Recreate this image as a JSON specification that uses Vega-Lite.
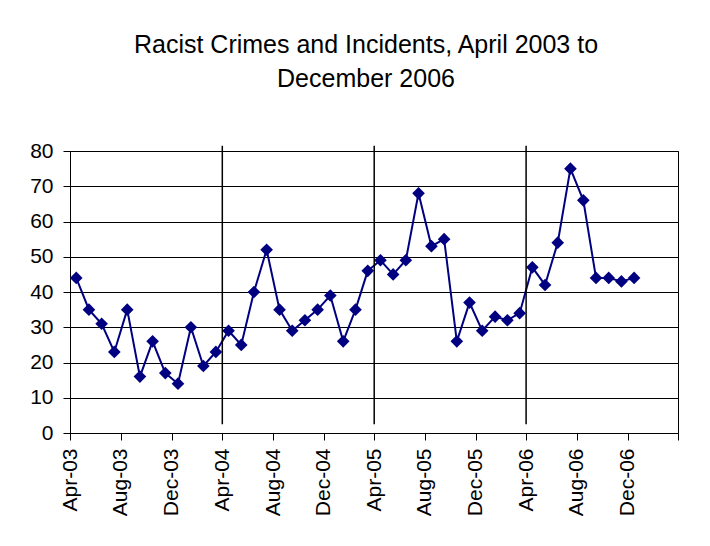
{
  "$schema": "https://vega.github.io/schema/vega-lite/v6.json",
  "autosize": {"type": "none"},
  "width": 608,
  "height": 282,
  "padding": {"left": 70, "top": 151, "right": 32, "bottom": 113},
  "background": "white",
  "title": {
    "text": ["Racist Crimes and Incidents, April 2003 to", "December 2006"],
    "font": "Liberation Sans",
    "fontSize": 25,
    "fontWeight": "normal",
    "color": "black",
    "lineHeight": 34,
    "anchor": "middle",
    "dx": -8,
    "offset": 48
  },
  "config": {
    "view": {"stroke": "black", "strokeWidth": 1},
    "axis": {
      "labelFont": "Liberation Sans",
      "labelFontSize": 21,
      "labelColor": "black",
      "domainColor": "black",
      "tickColor": "black",
      "tickSize": 7,
      "domainWidth": 1,
      "tickWidth": 1,
      "labelOverlap": false
    },
    "axisY": {
      "grid": true,
      "gridColor": "black",
      "gridOpacity": 1,
      "gridWidth": 1,
      "labelPadding": 10,
      "labelFlush": false
    }
  },
  "datasets": {
    "crimes": [
      {"month": "2003-04-01", "count": 44},
      {"month": "2003-05-01", "count": 35},
      {"month": "2003-06-01", "count": 31},
      {"month": "2003-07-01", "count": 23},
      {"month": "2003-08-01", "count": 35},
      {"month": "2003-09-01", "count": 16},
      {"month": "2003-10-01", "count": 26},
      {"month": "2003-11-01", "count": 17},
      {"month": "2003-12-01", "count": 14},
      {"month": "2004-01-01", "count": 30},
      {"month": "2004-02-01", "count": 19},
      {"month": "2004-03-01", "count": 23},
      {"month": "2004-04-01", "count": 29},
      {"month": "2004-05-01", "count": 25},
      {"month": "2004-06-01", "count": 40},
      {"month": "2004-07-01", "count": 52},
      {"month": "2004-08-01", "count": 35},
      {"month": "2004-09-01", "count": 29},
      {"month": "2004-10-01", "count": 32},
      {"month": "2004-11-01", "count": 35},
      {"month": "2004-12-01", "count": 39},
      {"month": "2005-01-01", "count": 26},
      {"month": "2005-02-01", "count": 35},
      {"month": "2005-03-01", "count": 46},
      {"month": "2005-04-01", "count": 49},
      {"month": "2005-05-01", "count": 45},
      {"month": "2005-06-01", "count": 49},
      {"month": "2005-07-01", "count": 68},
      {"month": "2005-08-01", "count": 53},
      {"month": "2005-09-01", "count": 55},
      {"month": "2005-10-01", "count": 26},
      {"month": "2005-11-01", "count": 37},
      {"month": "2005-12-01", "count": 29},
      {"month": "2006-01-01", "count": 33},
      {"month": "2006-02-01", "count": 32},
      {"month": "2006-03-01", "count": 34},
      {"month": "2006-04-01", "count": 47},
      {"month": "2006-05-01", "count": 42},
      {"month": "2006-06-01", "count": 54},
      {"month": "2006-07-01", "count": 75},
      {"month": "2006-08-01", "count": 66},
      {"month": "2006-09-01", "count": 44},
      {"month": "2006-10-01", "count": 44},
      {"month": "2006-11-01", "count": 43},
      {"month": "2006-12-01", "count": 44}
    ],
    "years": [
      {"month": "2004-04-01"},
      {"month": "2005-04-01"},
      {"month": "2006-04-01"}
    ]
  },
  "layer": [
    {
      "data": {"name": "crimes"},
      "encoding": {
        "x": {
          "field": "month",
          "type": "temporal",
          "timeUnit": "utcyearmonth",
          "bandPosition": 0.5,
          "title": null,
          "scale": {
            "domain": [
              {"year": 2003, "month": 4, "date": 1, "utc": true},
              {"year": 2007, "month": 4, "date": 1, "utc": true}
            ]
          },
          "axis": {
            "values": [
              {"year": 2003, "month": 4, "date": 1, "utc": true},
              {"year": 2003, "month": 8, "date": 1, "utc": true},
              {"year": 2003, "month": 12, "date": 1, "utc": true},
              {"year": 2004, "month": 4, "date": 1, "utc": true},
              {"year": 2004, "month": 8, "date": 1, "utc": true},
              {"year": 2004, "month": 12, "date": 1, "utc": true},
              {"year": 2005, "month": 4, "date": 1, "utc": true},
              {"year": 2005, "month": 8, "date": 1, "utc": true},
              {"year": 2005, "month": 12, "date": 1, "utc": true},
              {"year": 2006, "month": 4, "date": 1, "utc": true},
              {"year": 2006, "month": 8, "date": 1, "utc": true},
              {"year": 2006, "month": 12, "date": 1, "utc": true},
              {"year": 2007, "month": 4, "date": 1, "utc": true}
            ],
            "labelExpr": "utcyear(datum.value) == 2007 ? '' : utcFormat(datum.value, '%b-%y')",
            "labelAngle": -90,
            "labelAlign": "right",
            "labelBaseline": "middle",
            "labelPadding": 8,
            "grid": false,
            "labelBound": false,
            "labelFlush": false
          }
        },
        "y": {
          "field": "count",
          "type": "quantitative",
          "title": null,
          "scale": {"domain": [0, 80], "nice": false, "zero": true},
          "axis": {"values": [0, 10, 20, 30, 40, 50, 60, 70, 80]}
        }
      },
      "layer": [
        {"mark": {"type": "line", "color": "#000080", "strokeWidth": 2}},
        {"mark": {"type": "point", "shape": "diamond", "filled": true, "color": "#000080", "size": 160, "opacity": 1}}
      ]
    },
    {
      "data": {"name": "years"},
      "mark": {"type": "rule", "color": "black", "strokeWidth": 1.5},
      "encoding": {
        "x": {"field": "month", "type": "temporal", "timeUnit": "utcyearmonth"},
        "y": {"datum": 2.5, "type": "quantitative", "axis": {"values": [0, 10, 20, 30, 40, 50, 60, 70, 80]}},
        "y2": {"datum": 81.5}
      }
    }
  ]
}
